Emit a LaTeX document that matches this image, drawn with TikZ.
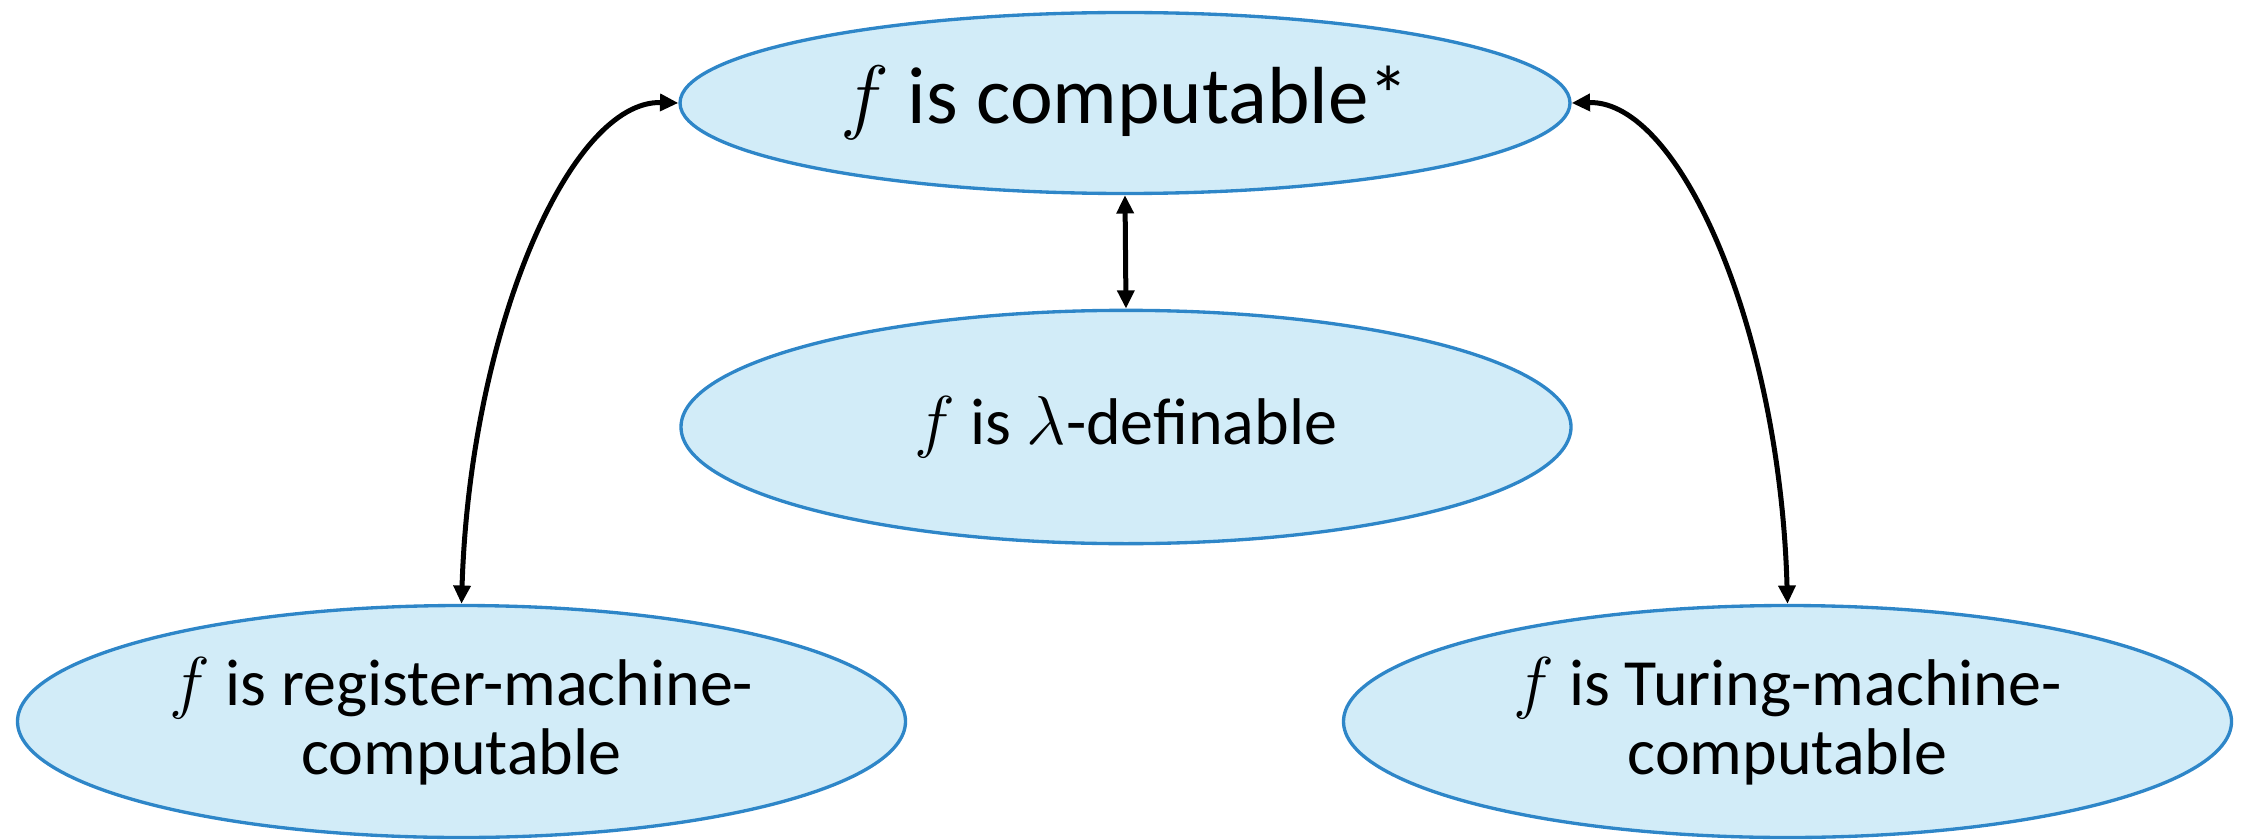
\documentclass[tikz,border=0pt]{standalone}
\usepackage{fontspec}
\setmainfont{Carlito}
\usetikzlibrary{arrows.meta,shapes.geometric}
\definecolor{ellfill}{RGB}{210,236,248}
\definecolor{elldraw}{RGB}{46,134,200}
\begin{document}
\begin{tikzpicture}[x=0.3pt,y=-0.3pt,
  claim/.style={ellipse, draw=elldraw, fill=ellfill, line width=1pt,
    inner sep=0pt, align=center, text=black},
  bigtext/.style={font=\fontsize{24.3pt}{26pt}\selectfont},
  smalltext/.style={font=\fontsize{19.8pt}{20.7pt}\selectfont},
  link/.style={line width=1.5pt,
    {Triangle[length=5.5pt,width=5pt]}-{Triangle[length=5.5pt,width=5pt]}}]
\useasboundingbox (0,0) rectangle (2244,840);

% the four equivalent notions
\node[claim, bigtext, minimum width=267pt, minimum height=54.3pt] (comp) at (1125,103)
  {$f$ is computable*};
\node[claim, smalltext, minimum width=267pt, minimum height=70pt] (lam) at (1126,427)
  {$f$ is $\lambda$-definable};
\node[claim, smalltext, minimum width=266.4pt, minimum height=69.6pt] (reg) at (461.5,721.5)
  {$f$ is register-machine-\\computable};
\node[claim, smalltext, minimum width=266.4pt, minimum height=69.6pt] (tur) at (1787.5,721.5)
  {$f$ is Turing-machine-\\computable};

% equivalences
\draw[link] (comp.south) -- (lam.north);
\draw[link] (reg.north) .. controls (470,330) and (570,100) .. (comp.west);
\draw[link] (tur.north) .. controls (1780,330) and (1680,100) .. (comp.east);
\end{tikzpicture}
\end{document}
